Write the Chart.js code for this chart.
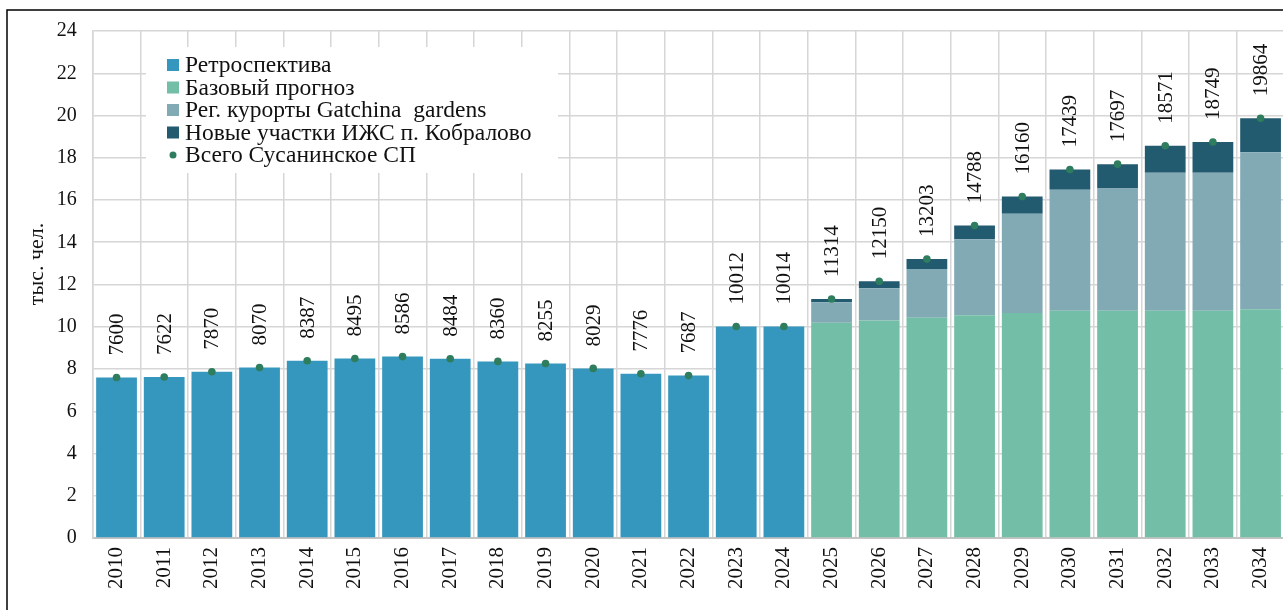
<!DOCTYPE html>
<html>
<head>
<meta charset="utf-8">
<script src="https://cdn.jsdelivr.net/npm/chart.js@4"></script>
<style>
    html, body { margin: 0; padding: 0; background: #fff; overflow: hidden; }
    #wrap { width: 1300px; height: 610px; }
</style>
</head>
<body>
<div id="wrap"><canvas id="grafico" width="1300" height="610"></canvas></div>
<script>
// Dados do gráfico (тыс. чел.)
const anos = ['2010', '2011', '2012', '2013', '2014', '2015', '2016', '2017', '2018', '2019', '2020', '2021', '2022', '2023', '2024',
    '2025', '2026', '2027', '2028', '2029', '2030', '2031', '2032', '2033', '2034'];

const retrospektiva = [7.600, 7.622, 7.870, 8.070, 8.387, 8.495, 8.586, 8.484, 8.360, 8.255, 8.029, 7.776, 7.687, 10.012, 10.014,
    null, null, null, null, null, null, null, null, null, null];

const bazovyi = [null, null, null, null, null, null, null, null, null, null, null, null, null, null, null,
    10.19, 10.29, 10.43, 10.54, 10.65, 10.76, 10.76, 10.76, 10.76, 10.83];

const gatchina = [null, null, null, null, null, null, null, null, null, null, null, null, null, null, null,
    0.97, 1.53, 2.30, 3.60, 4.70, 5.73, 5.79, 6.53, 6.53, 7.43];

const kobralovo = [null, null, null, null, null, null, null, null, null, null, null, null, null, null, null,
    0.154, 0.33, 0.473, 0.648, 0.81, 0.949, 1.147, 1.281, 1.459, 1.604];

const vsego = [7600, 7622, 7870, 8070, 8387, 8495, 8586, 8484, 8360, 8255, 8029, 7776, 7687, 10012, 10014,
    11314, 12150, 13203, 14788, 16160, 17439, 17697, 18571, 18749, 19864];

const legendas = ['Ретроспектива', 'Базовый прогноз', 'Рег. курорты Gatchina  gardens', 'Новые участки ИЖС п. Кобралово', 'Всего Сусанинское СП'];
const cores = ['#3597bd', '#73bea6', '#82aab5', '#225a6f', '#2e7d5e'];

const fonte = '"Liberation Serif", "Times New Roman", serif';

// Plugin: moldura, título do eixo, rótulos e legenda
const extras = {
    id: 'extras',
    afterDatasetsDraw(chart) {
        const ctx = chart.ctx;
        const meta = chart.getDatasetMeta(4);

        // Rótulos dos totais (verticais)
        ctx.save();
        ctx.fillStyle = '#111';
        ctx.font = '21px ' + fonte;
        ctx.textAlign = 'left';
        ctx.textBaseline = 'middle';
        meta.data.forEach((pt, i) => {
            ctx.save();
            ctx.translate(pt.x + 1, pt.y - 22);
            ctx.rotate(-Math.PI / 2);
            ctx.fillText(String(vsego[i]), 0, 0);
            ctx.restore();
        });
        ctx.restore();

        // Legenda dentro da área do gráfico
        ctx.save();
        ctx.fillStyle = '#fff';
        ctx.fillRect(146, 47, 412, 126);
        ctx.font = '23.5px ' + fonte;
        ctx.textBaseline = 'middle';
        ctx.textAlign = 'left';
        legendas.forEach((txt, i) => {
            const y = 65 + i * 22.5;
            ctx.fillStyle = cores[i];
            if (i < 4) {
                ctx.fillRect(167, y - 6, 12, 12);
            } else {
                ctx.beginPath();
                ctx.arc(173, y, 3.5, 0, Math.PI * 2);
                ctx.fill();
            }
            ctx.fillStyle = '#111';
            ctx.fillText(txt, 185, y + 1);
        });
        ctx.restore();

        // Título do eixo Y
        ctx.save();
        ctx.fillStyle = '#111';
        ctx.font = '22px ' + fonte;
        ctx.textAlign = 'center';
        ctx.textBaseline = 'middle';
        ctx.translate(37, 264);
        ctx.rotate(-Math.PI / 2);
        ctx.fillText('тыс. чел.', 0, 0);
        ctx.restore();

        // Moldura
        ctx.save();
        ctx.strokeStyle = '#000';
        ctx.lineWidth = 1.5;
        ctx.beginPath();
        ctx.moveTo(7, 700);
        ctx.lineTo(7, 10);
        ctx.lineTo(1283, 10);
        ctx.stroke();
        ctx.restore();
    }
};

const grafico = new Chart(document.getElementById('grafico'), {
    type: 'bar',
    data: {
        labels: anos,
        datasets: [
            { label: legendas[0], data: retrospektiva, backgroundColor: cores[0], order: 1 },
            { label: legendas[1], data: bazovyi, backgroundColor: cores[1], order: 1 },
            { label: legendas[2], data: gatchina, backgroundColor: cores[2], order: 1 },
            { label: legendas[3], data: kobralovo, backgroundColor: cores[3], order: 1 },
            {
                type: 'line',
                label: legendas[4],
                data: vsego.map(v => v / 1000),
                stack: 'total',
                showLine: false,
                pointRadius: 3.8,
                pointBackgroundColor: cores[4],
                pointBorderWidth: 0,
                order: 0
            }
        ]
    },
    options: {
        responsive: false,
        animation: false,
        layout: {
            padding: { top: 31, left: 0, right: 15.6, bottom: 0 }
        },
        datasets: {
            bar: { barPercentage: 0.855, categoryPercentage: 1 }
        },
        scales: {
            x: {
                stacked: true,
                grid: { color: '#d6d6d6', lineWidth: 1.5, drawTicks: false, offset: true },
                border: { color: '#c4c4c4', width: 2 },
                ticks: {
                    color: '#111',
                    font: { family: fonte, size: 21 },
                    maxRotation: 90,
                    minRotation: 90,
                    padding: 9,
                    autoSkip: false
                },
                afterFit(scale) { scale.height = 72; }
            },
            y: {
                stacked: true,
                min: 0,
                max: 24,
                grid: { color: '#d6d6d6', lineWidth: 1.5, drawTicks: false },
                border: { color: '#d6d6d6', width: 1.5 },
                ticks: {
                    stepSize: 2,
                    color: '#111',
                    font: { family: fonte, size: 20 },
                    padding: 16
                },
                afterFit(scale) { scale.width = 92.7; }
            }
        },
        plugins: {
            legend: { display: false },
            tooltip: { enabled: false }
        }
    },
    plugins: [extras]
});
</script>
</body>
</html>
